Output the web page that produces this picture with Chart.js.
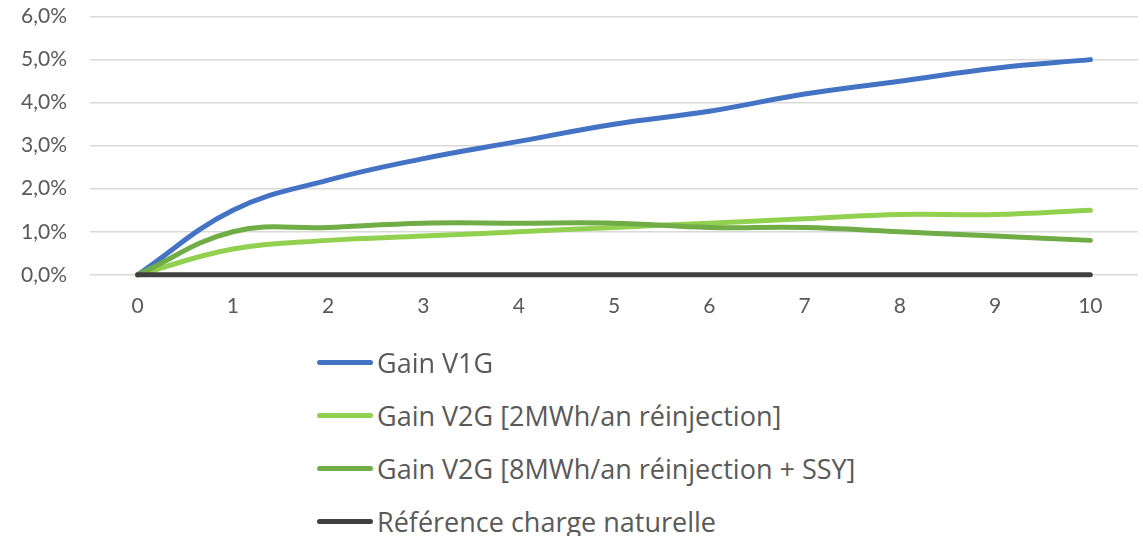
<!DOCTYPE html>
<html>
<head>
<meta charset="utf-8">
<script src="https://cdn.jsdelivr.net/npm/chart.js@4/dist/chart.umd.min.js"></script>
<style>
  html, body { margin: 0; padding: 0; background: #fff; }
  #wrap { position: relative; width: 1143px; height: 536px; overflow: hidden; font-family: "Open Sans", Lato, sans-serif; }
  #cv { position: absolute; left: 0; top: -19px; }
  #legend { position: absolute; left: 317px; top: 336px; }
  .item { height: 53px; display: flex; align-items: center; position: absolute; left: 0; white-space: nowrap; }
  .swatch { width: 56px; height: 5px; border-radius: 3px; margin-right: 4px; }
  .txt { font-size: 27px; color: #595959; line-height: 1; }
</style>
</head>
<body>
<div id="wrap">
  <canvas id="cv" width="1143" height="368"></canvas>
  <div id="legend"></div>
</div>
<script>
const categories = ["0","1","2","3","4","5","6","7","8","9","10"];
const gainV1G = [0, 1.5, 2.2, 2.7, 3.1, 3.5, 3.8, 4.2, 4.5, 4.8, 5.0];
const gainV2G2MWh = [0, 0.6, 0.8, 0.9, 1.0, 1.1, 1.2, 1.3, 1.4, 1.4, 1.5];
const gainV2G8MWh = [0, 1.0, 1.1, 1.2, 1.2, 1.2, 1.1, 1.1, 1.0, 0.9, 0.8];
const referenceCharge = [0, 0, 0, 0, 0, 0, 0, 0, 0, 0, 0];
const seriesNames = ["Gain V1G", "Gain V2G [2MWh/an réinjection]", "Gain V2G [8MWh/an réinjection + SSY]", "Référence charge naturelle"];
const seriesColors = ["#4472C4", "#92D050", "#70AD47", "#404040"];
const yTicks = [0, 1, 2, 3, 4, 5, 6];

const allSeries = [gainV1G, gainV2G2MWh, gainV2G8MWh, referenceCharge];
const datasets = allSeries.map((d, i) => ({
  label: seriesNames[i],
  data: d,
  borderColor: seriesColors[i],
  backgroundColor: seriesColors[i],
  borderWidth: 5,
  borderCapStyle: 'round',
  borderJoinStyle: 'round',
  pointRadius: 0,
  tension: 0.4,
  fill: false,
  clip: false,
  order: allSeries.length - i
}));

const chart = new Chart(document.getElementById('cv'), {
  type: 'line',
  data: { labels: categories, datasets },
  options: {
    responsive: false,
    animation: false,
    layout: { padding: { left: 20, right: 5, top: 0, bottom: 11 } },
    plugins: { legend: { display: false }, tooltip: { enabled: false } },
    scales: {
      x: {
        offset: true,
        grid: { display: false, drawTicks: false },
        border: { display: false },
        ticks: { color: '#595959', font: { family: 'Lato', size: 21 }, padding: 19 }
      },
      y: {
        min: yTicks[0],
        max: yTicks[yTicks.length - 1],
        afterBuildTicks: s => { s.ticks = yTicks.map(v => ({ value: v })); },
        grid: { color: '#D9D9D9', lineWidth: 1.5, drawTicks: false },
        border: { display: false },
        ticks: {
          color: '#595959',
          font: { family: 'Lato', size: 21 },
          padding: 23,
          callback: v => v.toFixed(1).replace('.', ',') + '%'
        },
        afterFit: s => { s.width = 70; }
      }
    }
  }
});

const legend = document.getElementById('legend');
chart.data.datasets.forEach((ds, i) => {
  const it = document.createElement('div');
  it.className = 'item';
  it.style.top = (i * 53) + 'px';
  const sw = document.createElement('div');
  sw.className = 'swatch';
  sw.style.background = ds.borderColor;
  const t = document.createElement('span');
  t.className = 'txt';
  t.textContent = ds.label;
  it.appendChild(sw); it.appendChild(t);
  legend.appendChild(it);
});
</script>
</body>
</html>
